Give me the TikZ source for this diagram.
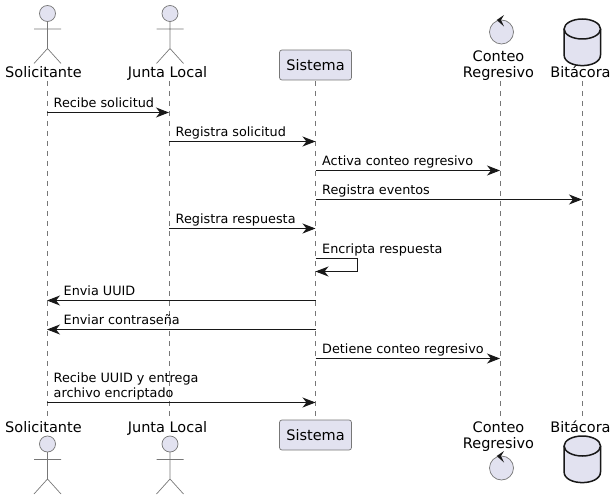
\documentclass[tikz,border=0pt]{standalone}
\usepackage{fontspec}
\setmainfont{DejaVu Sans}
\usetikzlibrary{arrows.meta}

\definecolor{partfill}{HTML}{E2E2F0}
\definecolor{partline}{HTML}{181818}
\definecolor{thinline}{HTML}{777777}

\tikzset{
    lifeline/.style={draw=thinline, line width=0.7pt, dash pattern=on 5pt off 5pt},
    msg/.style={draw=partline, line width=1pt, -{Stealth[length=13pt, width=10pt, inset=4pt]}},
    msglabel/.style={anchor=base west, inner sep=0pt, align=left, font=\fontsize{12.8}{15}\selectfont},
    partlabel/.style={anchor=base, inner sep=0pt, align=center, font=\fontsize{14.5}{15.7}\selectfont},
    partbox/.style={draw=thinline, fill=partfill, line width=0.7pt, rounded corners=2.5pt,
        minimum width=72pt, minimum height=30pt, inner sep=0pt, font=\fontsize{14.5}{16}\selectfont},
    actorfig/.pic={
        \draw[thinline, fill=partfill, line width=0.7pt] (0,0) circle[radius=8pt];
        \draw[thinline, line width=0.7pt] (0,8) -- (0,35) (-13.5,15.5) -- (13.5,15.5)
            (-13.5,50) -- (0,35) -- (13.5,50);
    },
    controlfig/.pic={
        \draw[thinline, fill=partfill, line width=0.7pt] (0,0) circle[radius=12pt];
        \fill[partline] (-4.8,-12) -- (2.5,-17) -- (-0.5,-12) -- (2.5,-5.5) -- cycle;
    },
    dbfig/.pic={
        \draw[partline, fill=partfill, line width=1.5pt] (-18.2,0) -- (-18.2,26)
            .. controls (-18.2,33) and (-9,36.6) .. (0,36.6)
            .. controls (9,36.6) and (18.2,33) .. (18.2,26) -- (18.2,0);
        \draw[partline, fill=partfill, line width=1.5pt] (0,0) ellipse[x radius=18.2pt, y radius=10pt];
    }
}

\begin{document}
\begin{tikzpicture}[x=1pt, y=-1pt]
    \useasboundingbox (0,0) rectangle (616,500);

    % lifelines
    \foreach \name/\xx in {sol/47, jun/169, sis/315.5, con/500, bit/582}{
        \coordinate (\name) at (\xx,81);
        \coordinate (\name End) at (\xx,417);
        \draw[lifeline] (\name) -- (\name End);
    }

    % participants, top and bottom
    \foreach \side/\ya/\yb/\ylab/\yc/\yd in {Top/13.5/65/77.5/32/29, Bot/444/435/432.7/468/446}{
        \pic at (47.5,\ya) {actorfig};
        \pic at (170,\ya) {actorfig};
        \node[partbox] (sis\side) at (315.5,\yb) {Sistema};
        \pic at (501.5,\yc) {controlfig};
        \pic at (582.3,\yd) {dbfig};
        \node[partlabel] (solLabel\side) at (43.5,\ylab) {Solicitante};
        \node[partlabel] (junLabel\side) at (167.5,\ylab) {Junta Local};
        \node[partlabel] (bitLabel\side) at (580.5,\ylab) {Bitácora};
    }
    \node[partlabel] (conLabelTop) at (498.5,77.5) {Conteo\\Regresivo};
    \node[partlabel] (conLabelBot) at (498.5,448.2) {Conteo\\Regresivo};

    % messages going right
    \foreach \from/\dest/\yy/\txt in {
        sol/jun/112.5/Recibe solicitud,
        jun/sis/141.5/Registra solicitud,
        sis/con/170.5/Activa conteo regresivo,
        sis/bit/199.5/Registra eventos,
        jun/sis/228.5/Registra respuesta,
        sis/con/358.5/Detiene conteo regresivo}{
        \draw[msg] (\from |- 0,\yy) -- (\dest |- 0,\yy);
        \node[msglabel] (lbl\yy) at ([xshift=6.5pt, yshift=5pt]\from |- 0,\yy) {\txt};
    }

    % messages going left
    \foreach \from/\dest/\yy/\txt in {
        sis/sol/300.5/Envia UUID,
        sis/sol/329.5/Enviar contraseña}{
        \draw[msg] (\from |- 0,\yy) -- (\dest |- 0,\yy);
        \node[msglabel] (lbl\yy) at ([xshift=16.5pt, yshift=5pt]\dest |- 0,\yy) {\txt};
    }

    % self message
    \draw[msg] (sis |- 0,258.5) -- ++(42,0) -- ++(0,13) -- (sis |- 0,271.5);
    \node[msglabel] (lbl258) at ([xshift=6.5pt, yshift=5pt]sis |- 0,258) {Encripta respuesta};

    % last one has two lines
    \draw[msg] (sol |- 0,402.5) -- (sis |- 0,402.5);
    \node[msglabel] (lbl402) at ([xshift=6.5pt, yshift=5pt]sol |- 0,402.5) {Recibe UUID y entrega\\archivo encriptado};
\end{tikzpicture}
\end{document}
